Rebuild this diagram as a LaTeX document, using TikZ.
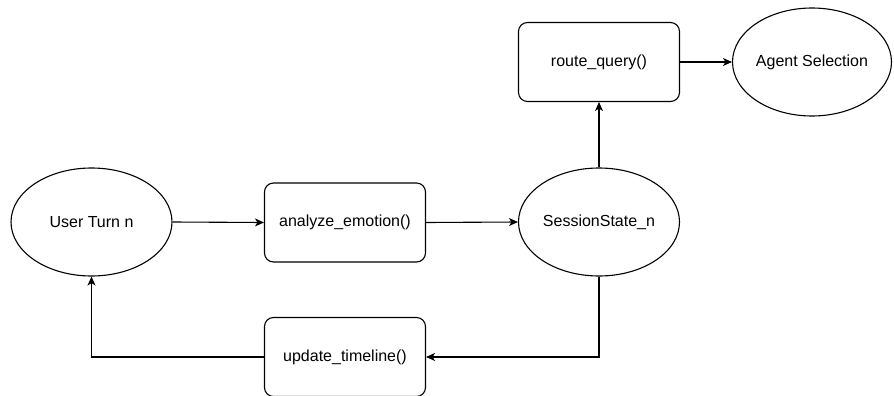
\documentclass[tikz,border=0pt]{standalone}
\usepackage{fontspec}
\setmainfont{Liberation Sans}
\usetikzlibrary{arrows.meta,shapes.geometric}
\begin{document}
\begin{tikzpicture}[x=1pt,y=-1pt,
  font=\fontsize{16}{19}\selectfont,
  every node/.style={draw=black,line width=1.1pt,inner sep=0pt},
  procbox/.style={rectangle,rounded corners=9pt,minimum width=161pt,minimum height=79pt},
  oval/.style={ellipse,minimum width=161pt,minimum height=108pt},
  conn/.style={line width=1.1pt,-{Stealth[length=9pt,width=8pt,inset=2.5pt]}}]
\useasboundingbox (0,0) rectangle (894,396);
\node[oval] (user) at (91.5,222) {User Turn n};
\node[procbox] (analyze) at (345,222.5) {analyze\_emotion()};
\node[oval] (state) at (599,222) {SessionState\_n};
\node[procbox] (route) at (599,62) {route\_query()};
\node[oval,minimum width=159pt,minimum height=108pt] (agent) at (812,62) {Agent Selection};
\node[procbox] (update) at (345,357) {update\_timeline()};
\draw[conn] (user.east) -- (analyze.west);
\draw[conn] (analyze.east) -- (state.west);
\draw[conn] (state.north) -- (route.south);
\draw[conn] (route.east) -- (agent.west);
\draw[conn] (state.south) |- (update.east);
\draw[conn] (update.west) -| (user.south);
\end{tikzpicture}
\end{document}
